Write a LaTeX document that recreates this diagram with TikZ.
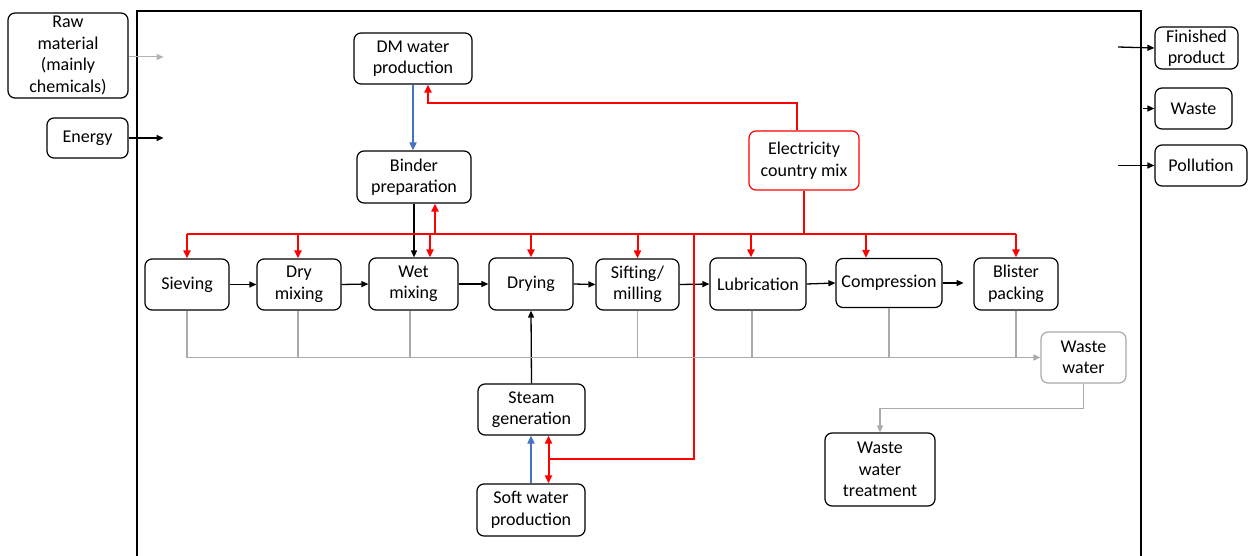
\documentclass[tikz,border=0pt]{standalone}
\usepackage{fontspec}
\setmainfont{Carlito}
\usetikzlibrary{arrows.meta}
\definecolor{elred}{RGB}{255,0,0}
\definecolor{wblue}{RGB}{68,114,196}
\definecolor{wgray}{RGB}{170,170,170}
\begin{document}
\begin{tikzpicture}[x=1pt,y=-1pt,
  font=\fontsize{18}{21.5}\selectfont,
  box/.style={draw=black, line width=1.2pt, rounded corners=7pt, inner sep=0pt, align=center, fill=white},
  tip/.style={-{Triangle[length=7pt,width=6pt]}},
  flow/.style={tip, line width=1.3pt, black},
  elec/.style={line width=2pt, elred},
  eleca/.style={elec, -{Triangle[length=8pt,width=7pt]}},
  water/.style={line width=1.8pt, wblue, -{Triangle[length=8pt,width=7pt]}},
  waste/.style={line width=1.6pt, wgray},
]
\useasboundingbox (0,0) rectangle (1248,556);

% system boundary
\draw[line width=1.3pt] (137,560) -- (137,11) -- (1141,11) -- (1141,560);

% inputs
\node[box, minimum width=120, minimum height=85] (raw) at (68,55.5) {Raw\\material\\(mainly\\chemicals)};
\node[box, minimum width=81, minimum height=40] (energy) at (87.5,138) {Energy};

% outputs
\node[box, minimum width=83, minimum height=42] (fin) at (1196.5,48) {Finished\\product};
\node[box, minimum width=77, minimum height=41] (wst) at (1193.5,108.5) {Waste};
\node[box, minimum width=92, minimum height=41] (poll) at (1201,165.5) {Pollution};

% utilities
\node[box, minimum width=118, minimum height=51] (dm) at (413,58.5) {DM water\\production};
\node[box, minimum width=114, minimum height=52] (binder) at (414,177) {Binder\\preparation};
\node[box, draw=elred, minimum width=110, minimum height=59] (el) at (804,160.5) {Electricity\\country mix};
\node[box, minimum width=107, minimum height=51] (steam) at (531.5,409.5) {Steam\\generation};
\node[box, minimum width=108, minimum height=52] (soft) at (531,510) {Soft water\\production};

% process chain
\node[box, minimum width=84, minimum height=51] (sieve) at (187,284.5) {Sieving};
\node[box, minimum width=84, minimum height=51] (dry) at (299,284.5) {Dry\\mixing};
\node[box, minimum width=89, minimum height=52] (wet) at (413.5,284) {Wet\\mixing};
\node[box, minimum width=84, minimum height=52] (drying) at (531,284) {Drying};
\node[box, minimum width=83, minimum height=51] (sift) at (637.5,284.5) {Sifting/\\milling};
\node[box, minimum width=96, minimum height=52] (lub) at (758,284) {Lubrication};
\node[box, minimum width=106, minimum height=49] (comp) at (889,283) {Compression};
\node[box, minimum width=84, minimum height=52] (blister) at (1016,284) {Blister\\packing};

% waste water
\node[box, draw=wgray, minimum width=85, minimum height=51] (ww) at (1083.5,357.5) {Waste\\water};
\node[box, minimum width=110, minimum height=73] (wwt) at (880,469.5) {Waste\\water\\treatment};

% input / output arrows
\draw[tip, line width=1pt, black!30] (raw.east |- 0,57) -- ++(35,0);
\draw[flow] (energy.east) -- ++(35,0);
\draw[flow] (1118,47) -- (fin.west);
\draw[flow] (1143,108.5) -- (wst.west);
\draw[flow] (1118,165.5) -- (poll.west);

% material flow
\draw[flow] (sieve.east) -- (dry.west);
\draw[flow] (dry.east) -- (wet.west);
\draw[flow] (wet.east) -- (drying.west);
\draw[flow] (drying.east) -- (sift.west);
\draw[flow] (sift.east) -- (lub.west);
\draw[flow] (lub.east) -- (comp.west);
\draw[flow] (comp.east) -- ++(21,0);
\draw[flow] (binder.south) -- (binder.south |- wet.north);
\draw[flow] (steam.north) -- (drying.south);

% water
\draw[water] (dm.south) -- (dm.south |- binder.north);
\draw[water] (soft.north) -- (soft.north |- steam.south);

% electricity distribution
\coordinate (busL) at (187,234);
\coordinate (busR) at (1016,234);
\coordinate (rj) at (694,459);
\draw[elec] (busL) -- (busR);
\draw[elec] (el.south) -- (el.south |- busL);
\draw[eleca] ([xshift=-7]el.north) -- ++(0,-27) -| ([xshift=15]dm.south);
\draw[eleca] (sieve.north |- busL) -- (sieve.north);
\draw[eleca] ([xshift=-1]dry.north |- busL) -- ([xshift=-1]dry.north);
\draw[eleca] ([xshift=16.5]wet.north |- busL) -- ([xshift=16.5]wet.north);
\draw[eleca] ([xshift=21]binder.south |- busL) -- ([xshift=21]binder.south);
\draw[eleca] (drying.north |- busL) -- (drying.north);
\draw[eleca] (sift.north |- busL) -- (sift.north);
\draw[eleca] ([xshift=-7]lub.north |- busL) -- ([xshift=-7]lub.north);
\draw[eleca] ([xshift=-23]comp.north |- busL) -- ([xshift=-23]comp.north);
\draw[eleca] (blister.north |- busL) -- (blister.north);
\draw[elec] (rj |- busL) -- (rj) -- (rj -| 548,0);
\draw[elec, {Triangle[length=8pt,width=7pt]}-{Triangle[length=8pt,width=7pt]}] ([xshift=17]steam.south) -- ([xshift=17]steam.south |- soft.north);

% waste water collection
\coordinate (wy) at (0,357.5);
\draw[waste] (sieve.south) -- (sieve.south |- wy);
\draw[waste] ([xshift=-1]dry.south) -- ([xshift=-1]dry.south |- wy);
\draw[waste] ([xshift=-3.5]wet.south) -- ([xshift=-3.5]wet.south |- wy);
\draw[waste] (sift.south) -- (sift.south |- wy);
\draw[waste] ([xshift=-6]lub.south) -- ([xshift=-6]lub.south |- wy);
\draw[waste] (comp.south) -- (comp.south |- wy);
\draw[waste] (blister.south) -- (blister.south |- wy);
\draw[waste, tip] (sieve.south |- wy) -- (ww.west);
\draw[waste, tip] (ww.south) -- ++(0,25) -| (wwt.north);

\end{tikzpicture}
\end{document}
